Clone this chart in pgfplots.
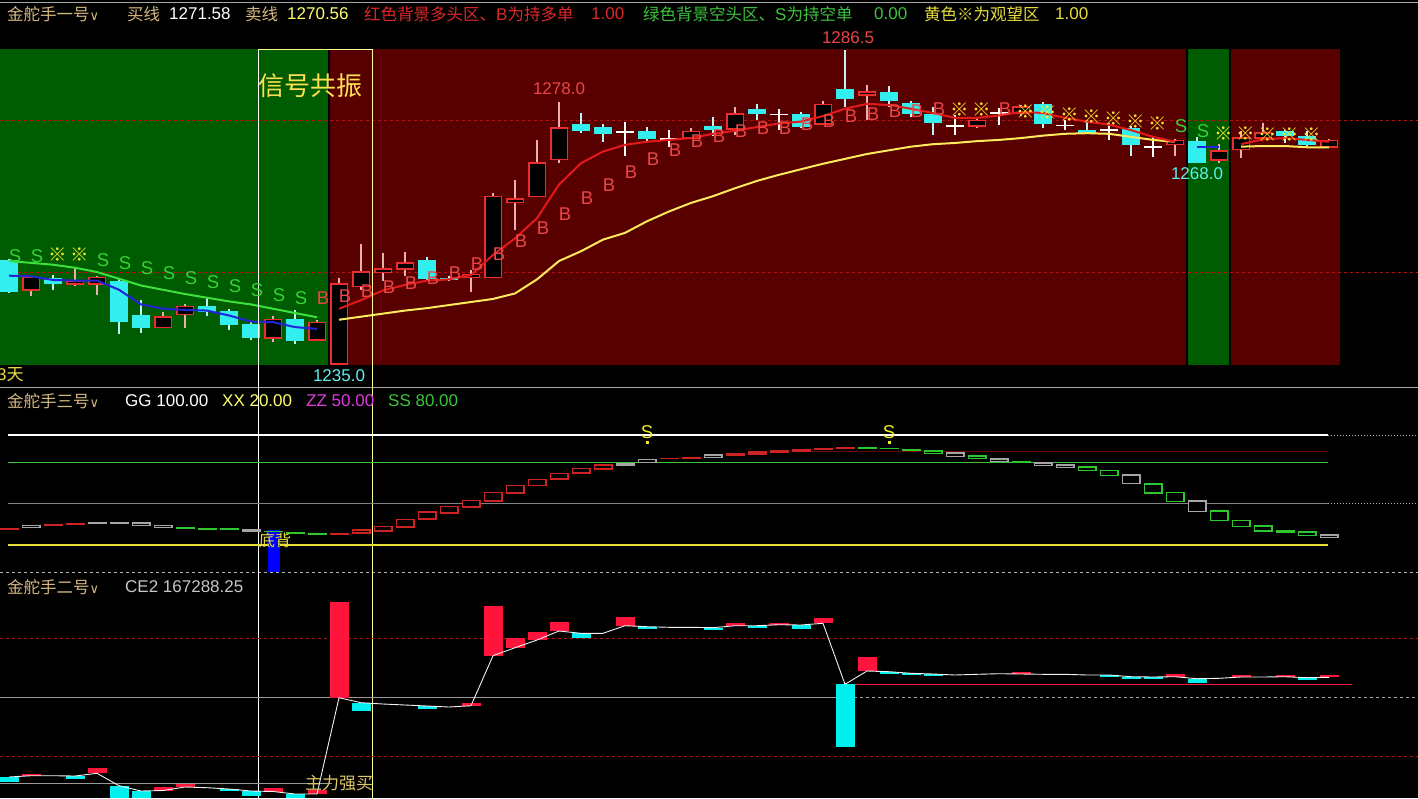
\documentclass[border=0pt]{standalone}
\usepackage{fontspec}
\setmainfont{Liberation Sans}
\newfontfamily\cjk{Noto Sans CJK SC}
\newfontfamily\dv{DejaVu Sans}
\usepackage{pgfplots}
\usepackage{pgfplotstable}
\pgfplotsset{compat=1.18}

\definecolor{bggreen}{RGB}{0,92,0}
\definecolor{bgred}{RGB}{88,0,0}
\definecolor{candred}{RGB}{235,45,45}
\definecolor{candcyan}{RGB}{50,238,238}
\definecolor{upwick}{RGB}{235,175,175}
\definecolor{dnwick}{RGB}{190,245,245}
\definecolor{buyred}{RGB}{228,25,25}
\definecolor{sellyel}{RGB}{255,235,90}
\definecolor{mgreen}{RGB}{60,225,60}
\definecolor{mblue}{RGB}{35,35,215}
\definecolor{lblS}{RGB}{55,210,55}
\definecolor{lblB}{RGB}{235,70,70}
\definecolor{lblY}{RGB}{245,235,40}
\definecolor{dashred}{RGB}{175,20,20}
\definecolor{hdr}{RGB}{212,184,128}
\definecolor{txtyel}{RGB}{255,255,110}
\definecolor{txtred}{RGB}{222,40,40}
\definecolor{txtgrn}{RGB}{60,195,60}
\definecolor{txtyel2}{RGB}{232,222,60}
\definecolor{txtmag}{RGB}{222,60,222}
\definecolor{oscred}{RGB}{205,35,35}
\definecolor{oscgray}{RGB}{165,165,165}
\definecolor{oscgreen}{RGB}{45,200,45}
\definecolor{barred}{RGB}{255,20,60}
\definecolor{barcyan}{RGB}{0,240,240}
\definecolor{vyel}{RGB}{255,255,150}

\newcommand\hf{\fontsize{17}{20}\selectfont}
\newcommand\cf{\fontsize{16.5}{20}\selectfont}

\pgfplotsset{
  eb/.style 2 args={only marks, mark=*, mark size=0pt, mark options={draw=none, fill=none}, forget plot,
    error bars/.cd, y dir=both, y explicit, error mark=none,
    error bar style={line width=#1, color=#2, line cap=butt}},
  panel/.style={scale only axis, hide axis, clip=false, width=1418pt,
    xmin=-0.409091, xmax=64.045455, anchor=south west},
  tm/.style 2 args={only marks, mark=text, text mark={#1}, text mark as node=true,
    text mark style={text=#2, font=\fontsize{18.5}{18.5}\selectfont, inner sep=0pt}},
}

% ---------------- panel 1 data ----------------
\pgfplotstableread{
i o h l c
1 1247.2 1249.5 1246.3 1249.3
3 1248.2 1250.8 1248.0 1248.8
4 1248.2 1249.5 1246.5 1249.3
7 1241.1 1243.6 1241.0 1242.9
8 1243.2 1244.9 1241.1 1244.6
12 1239.4 1243.0 1238.8 1242.5
14 1239.1 1242.3 1238.9 1242.0
15 1235.1 1249.3 1235.0 1248.3
16 1247.8 1254.8 1247.2 1250.2
17 1250.2 1253.3 1248.8 1250.7
18 1250.7 1253.5 1249.6 1251.7
21 1249.3 1250.5 1247.0 1249.8
22 1249.3 1263.1 1249.2 1262.6
23 1261.6 1265.2 1257.1 1262.2
24 1262.5 1271.8 1262.4 1268.1
25 1268.6 1278.0 1268.1 1273.8
31 1272.1 1273.8 1272.0 1273.2
33 1273.6 1277.2 1272.6 1276.1
37 1274.4 1278.2 1274.2 1277.6
39 1279.1 1280.8 1275.0 1279.7
44 1274.1 1275.3 1273.8 1275.0
46 1276.2 1277.5 1275.8 1277.2
53 1271.0 1272.0 1269.1 1271.7
55 1268.5 1271.2 1268.0 1270.0
56 1270.2 1273.2 1268.8 1272.1
57 1272.1 1274.5 1272.0 1273.0
60 1270.6 1272.0 1270.5 1271.7
}\upT
\pgfplotstableread{
i o h l c
0 1252.2 1252.4 1246.8 1247.0
2 1249.3 1249.8 1247.3 1248.2
5 1248.8 1249.2 1240.0 1242.1
6 1243.1 1245.6 1240.3 1241.0
9 1244.6 1246.0 1243.0 1243.6
10 1243.8 1244.2 1240.8 1241.6
11 1241.7 1242.0 1239.1 1239.5
13 1242.5 1244.0 1238.5 1239.0
19 1252.2 1252.6 1248.9 1249.0
20 1249.2 1249.6 1248.7 1248.9
26 1274.4 1276.2 1272.9 1273.3
27 1274.0 1274.4 1271.5 1272.8
29 1273.2 1274.0 1271.5 1271.9
32 1274.1 1275.6 1272.5 1273.4
34 1276.8 1277.7 1275.0 1276.0
36 1276.1 1276.4 1273.7 1273.9
38 1280.1 1286.5 1277.2 1278.5
40 1279.7 1280.6 1277.2 1278.1
41 1277.9 1278.2 1275.6 1276.0
42 1276.1 1277.2 1272.6 1274.5
47 1277.7 1278.0 1273.8 1274.4
49 1273.5 1275.0 1272.7 1272.9
51 1273.8 1274.0 1269.1 1271.0
54 1271.6 1272.3 1268.0 1268.0
58 1273.2 1273.5 1271.3 1272.5
59 1272.5 1273.2 1270.8 1271.0
}\dnT
\pgfplotstableread{
i c h l
28 1273.1 1274.8 1269.1
30 1272.0 1273.4 1270.6
35 1276.0 1276.8 1273.4
43 1274.1 1275.9 1272.6
45 1276.2 1277.0 1274.3
48 1274.2 1275.0 1273.4
50 1273.5 1274.5 1271.8
52 1270.7 1272.3 1269.0
}\djT
\pgfplotstableread{
i v
15 1244.2
16 1245.6
17 1247.2
18 1248.1
19 1248.8
20 1249.0
21 1249.7
22 1253.0
23 1255.7
24 1259.0
25 1264.5
26 1268.0
27 1269.9
28 1271.0
29 1271.5
30 1271.8
31 1272.1
32 1272.8
33 1273.3
34 1273.9
35 1274.5
36 1274.8
37 1275.7
38 1276.9
39 1277.7
40 1277.5
41 1276.9
42 1276.2
43 1275.4
44 1275.4
45 1275.8
46 1276.4
47 1276.2
48 1275.4
49 1274.8
50 1274.3
51 1273.4
52 1272.3
53 1271.5
}\buyA
\pgfplotstableread{
i v
56 1271.1
57 1271.9
58 1272.1
59 1271.8
60 1271.5
}\buyB
\pgfplotstableread{
i v
15 1242.4
16 1242.9
17 1243.4
18 1243.9
19 1244.3
20 1244.8
21 1245.3
22 1245.8
23 1246.7
24 1249.0
25 1252.0
26 1253.6
27 1255.5
28 1256.6
29 1258.5
30 1260.1
31 1261.5
32 1262.6
33 1263.9
34 1265.1
35 1266.1
36 1267.0
37 1267.9
38 1268.7
39 1269.5
40 1270.1
41 1270.7
42 1271.1
43 1271.3
44 1271.6
45 1271.8
46 1272.1
47 1272.5
48 1272.8
49 1272.9
50 1272.8
51 1272.3
52 1271.8
53 1271.5
}\sellA
\pgfplotstableread{
i v
56 1270.7
57 1270.8
58 1270.8
59 1270.6
60 1270.6
}\sellB
\pgfplotstableread{
i g b
0 1252.0 1249.6
1 1251.7 1249.5
2 1251.4 1248.9
3 1250.9 1248.8
4 1250.2 1248.8
5 1249.1 1247.3
6 1248.0 1244.9
7 1247.3 1244.2
8 1246.6 1244.0
9 1246.0 1243.9
10 1245.4 1243.1
11 1244.9 1242.1
12 1244.2 1242.0
13 1243.5 1241.2
14 1242.8 1240.9
}\gbT
\pgfplotstableread{
i v
0 1252.8
1 1252.8
4 1252.2
5 1251.7
6 1250.9
7 1250.0
8 1249.2
9 1248.6
10 1247.9
11 1247.2
12 1246.5
13 1245.9
53 1274.0
54 1273.3
}\Slbl
\pgfplotstableread{
i v
2 1253.0
3 1253.0
43 1276.7
44 1276.7
46 1276.4
47 1276.2
48 1275.9
49 1275.6
50 1275.2
51 1274.8
52 1274.5
55 1272.9
56 1272.9
57 1272.6
58 1272.6
59 1272.6
}\Ylbl
\pgfplotstableread{
i v
14 1246.0
15 1246.2
16 1247.0
17 1247.7
18 1248.4
19 1249.2
20 1250.0
21 1251.5
22 1253.1
23 1255.2
24 1257.3
25 1259.6
26 1262.2
27 1264.4
28 1266.6
29 1268.6
30 1270.2
31 1271.6
32 1272.4
33 1273.2
34 1273.7
35 1273.8
36 1274.3
37 1274.9
38 1275.7
39 1276.0
40 1276.5
41 1276.5
42 1276.8
45 1276.8
}\Blbl

% ---------------- panel 2 data ----------------
\pgfplotstableread{
i lo hi
0 30.9 32.6
2 34.0 35.3
3 34.5 36.2
15 27.0 28.8
30 82.3 83.6
31 82.5 84.1
33 84.8 86.7
34 85.5 88.4
35 86.7 89.1
36 87.9 89.8
37 89.1 90.8
38 89.8 91.3
}\oRF
\pgfplotstableread{
i lo hi
16 28.7 31.1
17 30.2 33.6
18 32.8 38.7
19 38.7 44.0
20 43.3 48.1
21 47.6 52.5
22 52.0 58.3
23 57.6 63.6
24 63.1 67.8
25 67.8 72.1
26 72.1 75.8
27 75.0 78.2
}\oRH
\pgfplotstableread{
i lo hi
1 32.6 34.5
4 35.8 36.5
5 35.5 36.2
6 34.3 36.0
7 32.8 34.5
11 30.0 31.6
28 77.5 78.9
29 80.1 82.5
32 83.5 85.5
43 84.2 86.9
45 80.6 82.6
47 77.9 79.9
48 76.5 78.2
51 64.6 70.9
54 44.2 52.0
60 25.6 27.3
}\oGH
\pgfplotstableread{
i lo hi
8 31.4 32.8
9 31.4 32.1
10 31.4 32.1
12 29.5 30.5
13 28.2 29.7
14 27.3 28.8
39 90.0 91.3
40 89.6 90.8
41 88.4 89.8
46 79.4 80.8
58 28.7 30.9
}\oGF
\pgfplotstableread{
i lo hi
42 86.7 88.8
44 82.6 84.8
49 74.1 76.7
50 70.4 74.3
52 57.6 64.8
53 51.5 58.3
55 37.5 44.7
56 33.3 37.9
57 30.2 33.8
59 27.0 29.5
}\oGHo

% ---------------- panel 3 data ----------------
\pgfplotstableread{
i v
0 -79.3
1 -78.0
2 -78.0
3 -78.3
4 -75.6
5 -88.0
6 -93.3
7 -92.8
8 -89.3
9 -90.0
10 -91.3
11 -93.3
12 -93.8
13 -96.3
14 -96.3
15 0
16 -5.0
17 -6.3
18 -7.3
19 -8.3
20 -9.3
21 -8.0
22 42.0
23 50.0
24 57.7
25 66.7
26 64.4
27 64.4
28 72.0
29 71.0
30 70.4
31 70.4
32 70.0
33 72.0
34 72.0
35 73.0
36 72.7
37 74.4
38 13.4
39 26.7
40 26.0
41 24.4
42 23.7
43 22.7
44 23.4
45 24.0
46 23.7
47 23.4
48 23.4
49 22.7
50 22.7
51 21.0
52 20.7
53 21.0
54 19.0
55 19.4
56 20.7
57 20.7
58 21.0
59 20.0
60 20.4
}\ceL
\pgfplotstableread{
i a b
1 -78.0 -76.3
4 -75.6 -70.0
7 -92.8 -89.0
8 -89.3 -86.3
12 -93.8 -90.0
14 -96.3 -92.3
15 0 95.4
21 -8.0 -5.3
22 42.0 92.0
23 50.0 59.4
24 57.7 66.0
25 66.7 76.0
28 72.0 80.4
33 72.0 74.4
35 73.0 74.4
37 74.4 80.0
39 26.7 40.7
46 23.7 25.4
53 21.0 23.7
56 20.7 22.7
58 21.0 22.7
60 20.4 22.7
}\ceR
\pgfplotstableread{
i a b
0 -79.3 -84.3
3 -78.3 -81.3
5 -88.0 -100.3
6 -93.3 -100.3
10 -91.3 -93.3
11 -93.3 -98.0
13 -96.3 -100.3
16 -5.0 -13.3
19 -8.3 -11.6
26 64.4 59.4
29 71.0 68.7
32 70.0 68.4
34 72.0 70.0
36 72.7 68.7
38 13.4 -49.6
40 26.0 24.0
41 24.4 22.7
42 23.7 22.2
50 22.7 21.0
51 21.0 18.7
52 20.7 18.7
54 19.0 14.4
59 20.0 18.4
}\ceC

\begin{document}
\begin{tikzpicture}
\path[use as bounding box] (0,0) rectangle (1418pt,-798pt);
\fill[black] (0,0) rectangle (1418pt,-798pt);
\draw[gray!70, line width=1pt] (0,-2pt) -- (1418pt,-2pt);
\draw[gray!70, line width=1pt] (0,-387pt) -- (1418pt,-387pt);
\draw[gray!60, line width=1pt, dashed] (0,-572.5pt) -- (1418pt,-572.5pt);

% ================= PANEL 1 =================
\begin{axis}[panel, at={(0pt,-365pt)}, height=335pt, ymin=1235.0, ymax=1289.77]
% backgrounds
\addplot[fill=bggreen, draw=none] coordinates {(-0.4091,1235.0) (14.5,1235.0) (14.5,1286.6) (-0.4091,1286.6)} -- cycle;
\addplot[fill=bgred, draw=none] coordinates {(14.59,1235.0) (53.5,1235.0) (53.5,1286.6) (14.59,1286.6)} -- cycle;
\addplot[fill=bggreen, draw=none] coordinates {(53.59,1235.0) (55.45,1235.0) (55.45,1286.6) (53.59,1286.6)} -- cycle;
\addplot[fill=bgred, draw=none] coordinates {(55.55,1235.0) (60.5,1235.0) (60.5,1286.6) (55.55,1286.6)} -- cycle;
% dashed levels
\addplot[dashred, dashed, line width=1pt] coordinates {(-0.4091,1275.0) (64.045,1275.0)};
\addplot[dashred, dashed, line width=1pt] coordinates {(-0.4091,1250.2) (64.045,1250.2)};
% wicks
\addplot[eb={1.2pt}{upwick}] table[x=i, y expr={(\thisrow{h}+\thisrow{l})/2}, y error expr={(\thisrow{h}-\thisrow{l})/2}] {\upT};
\addplot[eb={1.2pt}{dnwick}] table[x=i, y expr={(\thisrow{h}+\thisrow{l})/2}, y error expr={(\thisrow{h}-\thisrow{l})/2}] {\dnT};
\addplot[eb={1.2pt}{white}] table[x=i, y expr={(\thisrow{h}+\thisrow{l})/2}, y error expr={(\thisrow{h}-\thisrow{l})/2}] {\djT};
% bodies
\addplot[eb={18pt}{candred}] table[x=i, y expr={(\thisrow{o}+\thisrow{c})/2}, y error expr={abs(\thisrow{c}-\thisrow{o})/2+0.1}] {\upT};
\addplot[eb={15pt}{black}] table[x=i, y expr={(\thisrow{o}+\thisrow{c})/2}, y error expr={max(abs(\thisrow{c}-\thisrow{o})/2-0.15,0)}] {\upT};
\addplot[eb={18pt}{candcyan}] table[x=i, y expr={(\thisrow{o}+\thisrow{c})/2}, y error expr={abs(\thisrow{c}-\thisrow{o})/2}] {\dnT};
\addplot[eb={18pt}{white}] table[x=i, y=c, y error expr={0.09}] {\djT};
% moving lines
\addplot[mgreen, line width=2pt] table[x=i, y=g] {\gbT};
\addplot[mblue, line width=2pt] table[x=i, y=b] {\gbT};
\addplot[mblue, line width=2pt] coordinates {(54,1270.7) (55,1270.7)};
\addplot[sellyel, line width=2pt] table[x=i, y=v] {\sellA};
\addplot[sellyel, line width=2pt] table[x=i, y=v] {\sellB};
\addplot[buyred, line width=2pt] table[x=i, y=v] {\buyA};
\addplot[buyred, line width=2pt] table[x=i, y=v] {\buyB};
% signal box
\addplot[white, line width=1pt] coordinates {(11.318,1286.6) (11.318,1164.2)};
\addplot[vyel, line width=1pt] coordinates {(16.5,1286.6) (16.5,1164.2)};
\addplot[vyel, line width=1pt] coordinates {(11.318,1286.6) (16.5,1286.6)};
% labels
\addplot[tm={S}{lblS}] table[x expr=\thisrow{i}+0.27, y=v] {\Slbl};
\addplot[tm={B}{lblB}] table[x expr=\thisrow{i}+0.27, y=v] {\Blbl};
\addplot[tm={{\cjk ※}}{lblY}] table[x expr=\thisrow{i}+0.22, y=v] {\Ylbl};
\end{axis}

% ================= PANEL 2 =================
\begin{axis}[panel, at={(0pt,-575pt)}, height=187pt, ymin=-1.818, ymax=134.18]
\addplot[white, line width=1.2pt] coordinates {(-0.045,100) (59.95,100)};
\addplot[gray!60, dotted, line width=1pt] coordinates {(59.95,100) (64.045,100)};
\addplot[txtgrn, line width=1.2pt] coordinates {(-0.045,80) (59.95,80)};
\addplot[gray, line width=1.2pt] coordinates {(-0.045,50) (59.95,50)};
\addplot[gray!60, dotted, line width=1pt] coordinates {(59.95,50) (64.045,50)};
\addplot[txtyel2, line width=1.2pt] coordinates {(-0.045,20) (59.95,20)};
\addplot[dashred!60!black, line width=1pt] coordinates {(35.6,87.9) (59.95,87.9)};
% blue divergence bar
\addplot[eb={12pt}{blue}] coordinates {(12.045,15.75) +- (0,15.15)};
% boxes
\addplot[eb={19pt}{oscred}] table[x=i, y expr={(\thisrow{lo}+\thisrow{hi})/2}, y error expr={(\thisrow{hi}-\thisrow{lo})/2}] {\oRF};
\addplot[eb={19pt}{oscred}] table[x=i, y expr={(\thisrow{lo}+\thisrow{hi})/2}, y error expr={(\thisrow{hi}-\thisrow{lo})/2+0.4}] {\oRH};
\addplot[eb={16pt}{black}] table[x=i, y expr={(\thisrow{lo}+\thisrow{hi})/2}, y error expr={max((\thisrow{hi}-\thisrow{lo})/2-0.8,0)}] {\oRH};
\addplot[eb={19pt}{oscgray}] table[x=i, y expr={(\thisrow{lo}+\thisrow{hi})/2}, y error expr={(\thisrow{hi}-\thisrow{lo})/2+0.4}] {\oGH};
\addplot[eb={16pt}{black}] table[x=i, y expr={(\thisrow{lo}+\thisrow{hi})/2}, y error expr={max((\thisrow{hi}-\thisrow{lo})/2-0.8,0)}] {\oGH};
\addplot[eb={19pt}{oscgreen}] table[x=i, y expr={(\thisrow{lo}+\thisrow{hi})/2}, y error expr={(\thisrow{hi}-\thisrow{lo})/2}] {\oGF};
\addplot[eb={19pt}{oscgreen}] table[x=i, y expr={(\thisrow{lo}+\thisrow{hi})/2}, y error expr={(\thisrow{hi}-\thisrow{lo})/2+0.4}] {\oGHo};
\addplot[eb={16pt}{black}] table[x=i, y expr={(\thisrow{lo}+\thisrow{hi})/2}, y error expr={max((\thisrow{hi}-\thisrow{lo})/2-0.8,0)}] {\oGHo};
% S signals
\addplot[tm={S}{lblY}] coordinates {(29,102.2) (40,102.2)};
\addplot[only marks, mark=square*, mark size=0.8pt, color=lblY] coordinates {(29,94.9) (40,94.9)};
\node[text=txtyel2, font=\cjk\fontsize{16}{16}\selectfont, inner sep=0pt] at (axis cs:12.1,23.6) {底背};
\end{axis}

% ================= PANEL 3 =================
\begin{axis}[panel, at={(0pt,-798pt)}, height=222pt, ymin=-100.3, ymax=121.7]
\addplot[dashred, dashed, line width=1pt] coordinates {(-0.4091,59.4) (64.045,59.4)};
\addplot[dashred, dashed, line width=1pt] coordinates {(-0.4091,-59.0) (64.045,-59.0)};
\addplot[gray!80, line width=1pt] coordinates {(-0.4091,0) (37.6,0)};
\addplot[gray!70, dashed, line width=1pt] coordinates {(37.6,0) (64.045,0)};
\addplot[gray!80, line width=1pt] coordinates {(-0.4091,-85.6) (14.7,-85.6)};
\addplot[barred, line width=1.2pt] coordinates {(38.09,13.4) (61.05,13.4)};
\addplot[eb={19pt}{barred}] table[x=i, y expr={(\thisrow{a}+\thisrow{b})/2}, y error expr={abs(\thisrow{b}-\thisrow{a})/2}] {\ceR};
\addplot[eb={19pt}{barcyan}] table[x=i, y expr={(\thisrow{a}+\thisrow{b})/2}, y error expr={abs(\thisrow{b}-\thisrow{a})/2}] {\ceC};
\addplot[white!90!gray, line width=0.9pt] table[x=i, y=v] {\ceL};
\node[text=hdr!80!yellow, font=\cjk\fontsize{17}{17}\selectfont, inner sep=0pt] at (axis cs:15,-85.3) {主力强买};
\end{axis}

% ================= TEXTS =================
\begin{scope}[every node/.style={anchor=west, inner sep=0pt}]
\node[text=hdr] at (7pt,-14pt) {\cjk\cf 金舵手一号\dv\fontsize{13}{13}\selectfont∨};
\node[text=hdr] at (127pt,-14pt) {\cjk\cf 买线};
\node[text=white] at (169pt,-14pt) {\hf 1271.58};
\node[text=hdr] at (245pt,-14pt) {\cjk\cf 卖线};
\node[text=txtyel] at (287pt,-14pt) {\hf 1270.56};
\node[text=txtred] at (364pt,-14pt) {\cjk\cf 红色背景多头区、{\hf\rmfamily B}为持多单};
\node[text=txtred] at (591pt,-14pt) {\hf 1.00};
\node[text=txtgrn] at (643pt,-14pt) {\cjk\cf 绿色背景空头区、{\hf\rmfamily S}为持空单};
\node[text=txtgrn] at (874pt,-14pt) {\hf 0.00};
\node[text=txtyel2] at (924pt,-14pt) {\cjk\cf 黄色※为观望区};
\node[text=txtyel2] at (1055pt,-14pt) {\hf 1.00};

\node[text=hdr] at (7pt,-401pt) {\cjk\cf 金舵手三号\dv\fontsize{13}{13}\selectfont∨};
\node[text=white] at (125pt,-401pt) {\hf GG 100.00};
\node[text=txtyel] at (222pt,-401pt) {\hf XX 20.00};
\node[text=txtmag] at (306pt,-401pt) {\hf ZZ 50.00};
\node[text=txtgrn] at (388pt,-401pt) {\hf SS 80.00};

\node[text=hdr] at (7pt,-587pt) {\cjk\cf 金舵手二号\dv\fontsize{13}{13}\selectfont∨};
\node[text=gray!45!white] at (125pt,-587pt) {\hf CE2 167288.25};

\node[text=txtyel2] at (-3pt,-375pt) {\hf 3{\cjk 天}};
\end{scope}
\node[text=lblB, inner sep=0pt] at (848pt,-38pt) {\hf 1286.5};
\node[text=lblB, inner sep=0pt] at (559pt,-89pt) {\hf 1278.0};
\node[text=candcyan!80!white, inner sep=0pt] at (1197pt,-174pt) {\hf 1268.0};
\node[text=candcyan!80!white, inner sep=0pt] at (339pt,-376pt) {\hf 1235.0};
\node[text={rgb,255:red,255;green,225;blue,80}, inner sep=0pt] at (310pt,-86pt) {\cjk\fontsize{26}{26}\selectfont 信号共振};
\end{tikzpicture}
\end{document}
